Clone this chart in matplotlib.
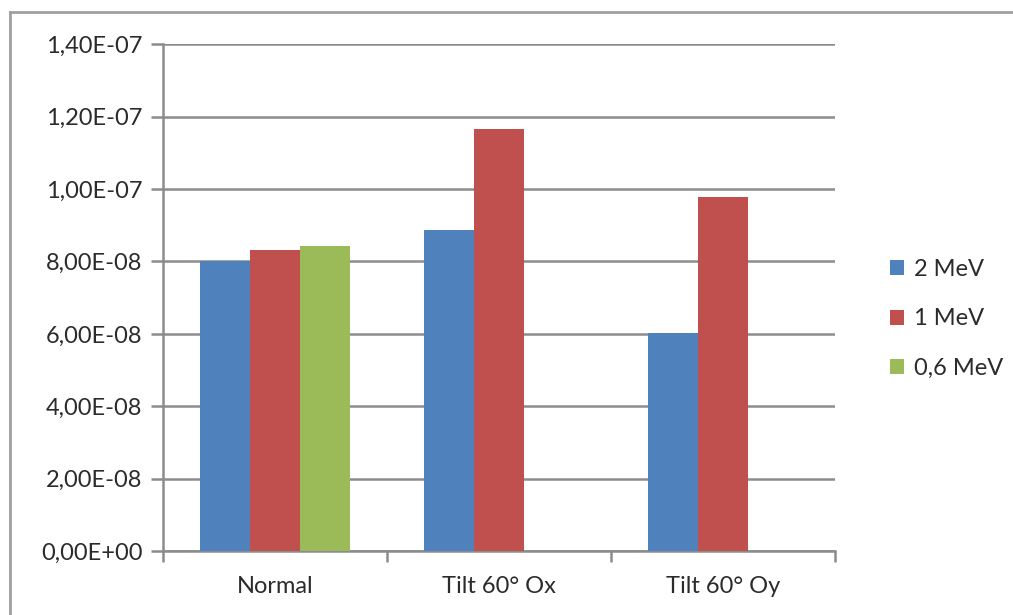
import matplotlib.pyplot as plt
import numpy as np
from matplotlib.lines import Line2D
from matplotlib.ticker import FuncFormatter, MultipleLocator

categories = ["Normal", "Tilt 60° Ox", "Tilt 60° Oy"]
series = ["2 MeV", "1 MeV", "0,6 MeV"]
vals_2mev = [8.0e-08, 8.88e-08, 6.02e-08]
vals_1mev = [8.33e-08, 1.167e-07, 9.79e-08]
vals_06mev = [8.44e-08, np.nan, np.nan]
colors = ["#4F81BD", "#C0504D", "#9BBB59"]
text_col = "#2b2b2b"

plt.rcParams.update({"font.family": ["Lato", "DejaVu Sans"], "font.size": 16})

fig = plt.figure(figsize=(10.13, 6.15), dpi=100)
ax = fig.add_axes([0.161, 0.104, 0.663, 0.824])

x = np.arange(len(categories))
bw = 0.8 / 3.6  # Excel-style 150% gap width
for i, (name, vals) in enumerate(zip(series, [vals_2mev, vals_1mev, vals_06mev])):
    ax.bar(x + (i - 1) * bw, vals, width=bw, color=colors[i], label=name, zorder=3)

ax.set_xlim(-0.5, len(categories) - 0.5)
ax.set_ylim(0, 1.4e-07)
ax.yaxis.set_major_locator(MultipleLocator(2e-08))


def sci_comma(v, _):
    s = f"{v:.2E}"
    return s.replace(".", ",")


ax.yaxis.set_major_formatter(FuncFormatter(sci_comma))
ax.grid(axis="y", color="#8c8c8c", linewidth=1.8, zorder=0)

ax.set_xticks(x)
ax.set_xticklabels(categories, fontsize=17, color=text_col)
ax.set_xticks(np.arange(-0.5, len(categories)), minor=True)
ax.tick_params(axis="x", which="major", length=0, pad=18)
ax.tick_params(axis="x", which="minor", length=8, width=1.8, color="#8c8c8c")
ax.tick_params(axis="y", length=9, width=1.8, color="#8c8c8c", pad=6,
               labelsize=17, labelcolor=text_col)

for side in ["top", "right"]:
    ax.spines[side].set_visible(False)
for side in ["left", "bottom"]:
    ax.spines[side].set_color("#8c8c8c")
    ax.spines[side].set_linewidth(1.8)

leg = ax.legend(loc="center left", bbox_to_anchor=(1.05, 0.458), frameon=False,
                handlelength=0.6, handleheight=0.6, handletextpad=0.45,
                labelspacing=1.2, fontsize=17)
for t in leg.get_texts():
    t.set_color(text_col)

# outer chart-area frame
fig.add_artist(Line2D([0.0095, 0.0095], [0, 0.981], color="#a0a0a0", lw=2))
fig.add_artist(Line2D([0.0095, 1], [0.981, 0.981], color="#a0a0a0", lw=2))

fig.savefig("out.png", dpi=100)
